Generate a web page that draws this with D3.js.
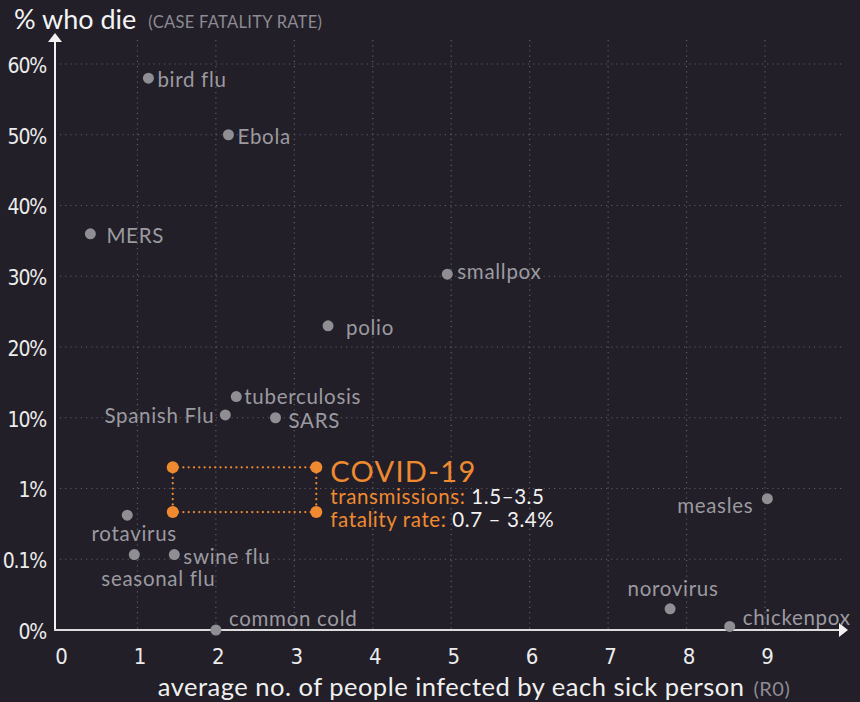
<!DOCTYPE html>
<html>
<head>
<meta charset="utf-8">
<script src="https://cdn.jsdelivr.net/npm/d3@7"></script>
<style>
  html, body { margin: 0; padding: 0; background: #221f28; }
  svg { display: block; }
</style>
</head>
<body>
<svg id="chart" width="860" height="702"></svg>
<script>
// ---- data ----
const diseases = ["bird flu", "Ebola", "MERS", "smallpox", "polio", "tuberculosis", "Spanish Flu", "SARS",
                  "rotavirus", "seasonal flu", "swine flu", "common cold", "measles", "norovirus", "chickenpox"];
const r0Values = [1.14, 2.16, 0.40, 4.95, 3.43, 2.26, 2.12, 2.76, 0.87, 0.96, 1.47, 2.0, 9.03, 7.79, 8.55];
const fatalityValues = [58, 50, 36, 30.3, 23, 13, 10.4, 10, 0.66, 0.16, 0.16, 0, 0.87, 0.03, 0.005];

const covidR0 = [1.45, 3.28];
const covidFatality = [0.7, 3.7];
const covidTitle = "COVID-19";
const covidLines = [["transmissions: ", "1.5–3.5"], ["fatality rate: ", "0.7 – 3.4%"]];

const xTicks = [0, 1, 2, 3, 4, 5, 6, 7, 8, 9];
const yTicks = [0, 0.1, 1, 10, 20, 30, 40, 50, 60];
const yTickLabels = ["0%", "0.1%", "1%", "10%", "20%", "30%", "40%", "50%", "60%"];

const yTitle = "% who die";
const yTitleNote = "(CASE FATALITY RATE)";
const xTitle = "average no. of people infected by each sick person";
const xTitleNote = "(R0)";

// ---- layout ----
const svg = d3.select("#chart");
const W = 860, H = 702;
const axisX = 55, axisY = 630;
const yTop = 64, yStep = (axisY - yTop) / (yTicks.length - 1);

const x = d3.scaleLinear().domain([0, 9]).range([59, 765]);
const y = d3.scaleLinear().domain(yTicks).range(yTicks.map((d, i) => axisY - i * yStep));

const bg = "#221f28";
svg.append("rect").attr("width", W).attr("height", H).attr("fill", bg);

const gridColor = "#6a6772";
const labelFont = "Lato, 'Open Sans', sans-serif";
const tickFont = "'Liberation Sans Narrow', 'DejaVu Sans Condensed', 'Arial Narrow', sans-serif";

// grid lines
const grid = svg.append("g");
grid.selectAll("line.v").data(xTicks.filter(d => d > 0)).join("line")
  .attr("x1", d => x(d)).attr("x2", d => x(d))
  .attr("y1", 40).attr("y2", axisY)
  .attr("stroke", gridColor).attr("stroke-width", 1.2)
  .attr("stroke-dasharray", "1.2,4").attr("opacity", 0.85);
grid.selectAll("line.h").data(yTicks.filter(d => d > 0)).join("line")
  .attr("x1", 60).attr("x2", 845)
  .attr("y1", d => y(d)).attr("y2", d => y(d))
  .attr("stroke", gridColor).attr("stroke-width", 1.2)
  .attr("stroke-dasharray", "1.2,4").attr("opacity", 0.85);

// axes via d3 axis (tick labels)
const xAxis = d3.axisBottom(x).tickValues(xTicks).tickSize(0).tickPadding(18).tickFormat(d3.format("d"));
const gx = svg.append("g").attr("transform", `translate(0,${axisY})`).call(xAxis);
gx.select(".domain").remove();
gx.selectAll("text").attr("font-family", tickFont).attr("font-size", 22).attr("fill", "#ececec")
  .attr("font-stretch", "condensed").attr("dy", "0.71em").attr("transform", "translate(2,0)");

const yAxis = d3.axisLeft(y).tickValues(yTicks).tickSize(0).tickPadding(9)
  .tickFormat((d, i) => yTickLabels[i]);
const gy = svg.append("g").attr("transform", `translate(${axisX},0)`).call(yAxis);
gy.select(".domain").remove();
gy.selectAll("text").attr("font-family", tickFont).attr("font-size", 21).attr("fill", "#ececec")
  .attr("font-stretch", "condensed").attr("letter-spacing", "-1.2px").attr("dy", "0.4em");

// axis lines with arrows
svg.append("line").attr("x1", axisX).attr("x2", axisX).attr("y1", axisY + 1).attr("y2", 42)
  .attr("stroke", "#f2f2f2").attr("stroke-width", 2);
svg.append("path").attr("d", `M${axisX - 7},${42} L${axisX},${33} L${axisX + 7},${42} Z`).attr("fill", "#f2f2f2");
svg.append("line").attr("x1", axisX - 1).attr("x2", 840).attr("y1", axisY).attr("y2", axisY)
  .attr("stroke", "#dcdcdc").attr("stroke-width", 2.2);
svg.append("path").attr("d", `M${839},${axisY - 7} L${848},${axisY} L${839},${axisY + 7} Z`).attr("fill", "#f2f2f2");

// titles
const yt = svg.append("text").attr("x", 14).attr("y", 29).attr("font-family", labelFont);
yt.append("tspan").attr("font-size", 27).attr("fill", "#f4f4f4").text(yTitle);
yt.append("tspan").attr("dx", 12).attr("font-size", 16.5).attr("letter-spacing", "0.3px")
  .attr("fill", "#8d8b93").attr("dy", -1).text(yTitleNote);

const xt = svg.append("text").attr("x", 474).attr("y", 696).attr("text-anchor", "middle")
  .attr("font-family", labelFont).attr("letter-spacing", "0.5px");
xt.append("tspan").attr("font-size", 25.5).attr("fill", "#f0f0f0").text(xTitle);
xt.append("tspan").attr("dx", 9).attr("font-size", 20).attr("fill", "#8d8b93").text(xTitleNote);

// disease points
const points = diseases.map((name, i) => ({ name, r0: r0Values[i], f: fatalityValues[i] }));
const placement = {
  "bird flu": ["start", 9, 1], "Ebola": ["start", 9, 1], "MERS": ["start", 16, 1],
  "smallpox": ["start", 10, -3], "polio": ["start", 18, 1], "tuberculosis": ["start", 8, -1],
  "Spanish Flu": ["end", -11, 0], "SARS": ["start", 13, 2], "rotavirus": ["middle", 7, 18],
  "seasonal flu": ["middle", 24, 23], "swine flu": ["start", 9, 1], "common cold": ["start", 13, -12],
  "measles": ["end", -14, 6], "norovirus": ["middle", 3, -21], "chickenpox": ["start", 13, -9]
};
const dotColor = "#8f8e93";
const labelColor = "#9b9aa0";
const pg = svg.append("g");
pg.selectAll("circle").data(points).join("circle")
  .attr("cx", d => x(d.r0)).attr("cy", d => y(d.f)).attr("r", 5.5).attr("fill", dotColor);
pg.selectAll("text").data(points).join("text")
  .attr("x", d => x(d.r0) + placement[d.name][1])
  .attr("y", d => y(d.f) + placement[d.name][2])
  .attr("text-anchor", d => placement[d.name][0])
  .attr("dominant-baseline", "central")
  .attr("font-family", labelFont).attr("font-size", 20.5).attr("letter-spacing", "0.7px")
  .attr("fill", labelColor)
  .text(d => d.name);

// COVID box
const orange = "#f08a30";
const cx0 = x(covidR0[0]), cx1 = x(covidR0[1]);
const cyLo = y(covidFatality[0]), cyHi = y(covidFatality[1]);
const cg = svg.append("g");
const boxLines = [
  [cx0, cyHi, cx1, cyHi], [cx0, cyLo, cx1, cyLo], [cx0, cyHi, cx0, cyLo], [cx1, cyHi, cx1, cyLo]
];
cg.selectAll("line").data(boxLines).join("line")
  .attr("x1", d => d[0]).attr("y1", d => d[1]).attr("x2", d => d[2]).attr("y2", d => d[3])
  .attr("stroke", orange).attr("stroke-width", 2.2).attr("stroke-linecap", "round")
  .attr("stroke-dasharray", "0.1,5.2");
const corners = [];
covidR0.forEach(r => covidFatality.forEach(f => corners.push([r, f])));
cg.selectAll("circle").data(corners).join("circle")
  .attr("cx", d => x(d[0])).attr("cy", d => y(d[1])).attr("r", 6).attr("fill", orange);

const tx = cx1 + 14;
cg.append("text").attr("x", tx).attr("y", cyHi + 3).attr("dominant-baseline", "central")
  .attr("font-family", labelFont).attr("font-size", 29).attr("letter-spacing", "1.3px")
  .attr("fill", orange).text(covidTitle);
covidLines.forEach((pair, i) => {
  const t = cg.append("text").attr("x", tx).attr("y", cyHi + 28.5 + i * 23).attr("dominant-baseline", "central")
    .attr("font-family", labelFont).attr("font-size", 20.5).attr("letter-spacing", "0.6px");
  t.append("tspan").attr("fill", orange).text(pair[0]);
  t.append("tspan").attr("fill", "#f2f2f2").text(pair[1]);
});
</script>
</body>
</html>
